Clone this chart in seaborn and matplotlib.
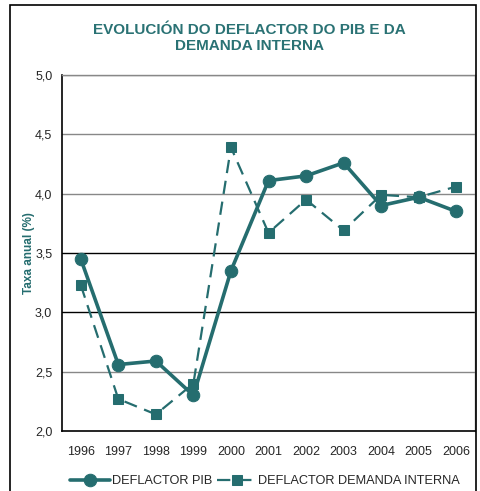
import matplotlib
matplotlib.use("Agg")
import matplotlib.pyplot as plt
import numpy as np
import pandas as pd
import seaborn as sns
from matplotlib.patches import Rectangle

years = [1996, 1997, 1998, 1999, 2000, 2001, 2002, 2003, 2004, 2005, 2006]
deflactor_pib = [3.45, 2.56, 2.59, 2.30, 3.35, 4.11, 4.15, 4.26, 3.90, 3.97, 3.85]
deflactor_demanda = [3.23, 2.27, 2.14, 2.40, 4.39, 3.67, 3.95, 3.69, 3.99, 3.97, 4.06]
y_ticks = [2.0, 2.5, 3.0, 3.5, 4.0, 4.5, 5.0]

TEAL = "#256d6f"

df = pd.DataFrame({
    "ano": years * 2,
    "valor": deflactor_pib + deflactor_demanda,
    "serie": ["DEFLACTOR PIB"] * len(years) + ["DEFLACTOR DEMANDA INTERNA"] * len(years),
})

sns.set_style("white")
plt.rcParams["font.family"] = ["Liberation Sans", "DejaVu Sans"]

fig = plt.figure(figsize=(4.8, 4.91), dpi=100)
ax = fig.add_axes([62 / 480, 1 - 431 / 491, 413 / 480, 356 / 491])

# gridlines (3.0 and 3.5 look darker in the original)
for v in y_ticks[1:]:
    col = "black" if v in (3.0, 3.5) else "#888888"
    ax.axhline(v, color=col, linewidth=1.0, zorder=0)

pib = df[df["serie"] == "DEFLACTOR PIB"]
dem = df[df["serie"] == "DEFLACTOR DEMANDA INTERNA"]

sns.lineplot(data=pib, x="ano", y="valor", ax=ax, color=TEAL, linewidth=2.6,
             marker="o", markersize=9, markeredgecolor=TEAL,
             label="DEFLACTOR PIB", zorder=3)
sns.lineplot(data=dem, x="ano", y="valor", ax=ax, color=TEAL, linewidth=1.6,
             marker="s", markersize=6.5, markeredgecolor=TEAL,
             label="DEFLACTOR DEMANDA INTERNA", zorder=2)
ax.lines[-1].set_dashes((6, 3.5))

ax.set_xlim(years[0] - 0.5, years[-1] + 0.5)
ax.set_ylim(2.0, 5.0)
ax.set_xticks(years)
ax.set_xticklabels([str(y) for y in years], fontsize=9)
ax.set_xticks([y + 0.5 for y in years[:-1]] + [years[0] - 0.5], minor=True)
ax.tick_params(axis="x", which="major", length=0, pad=11)
ax.tick_params(axis="x", which="minor", length=5, width=1, color="black", direction="out")
ax.set_yticks(y_ticks)
ax.set_yticklabels([f"{v:.1f}".replace(".", ",") for v in y_ticks], fontsize=9)
ax.tick_params(axis="y", length=4, width=1, color="black", direction="out", pad=3)

ax.set_xlabel("")
ax.set_ylabel("Taxa anual (%)", color=TEAL, fontsize=8.5, fontweight="bold")
ax.yaxis.set_label_coords((35 - 62) / 413, 0.5)

for s in ["left", "bottom"]:
    ax.spines[s].set_color("black")
    ax.spines[s].set_linewidth(1.2)
for s in ["top", "right"]:
    ax.spines[s].set_color("#888888")
    ax.spines[s].set_linewidth(1.0)

fig.text(0.52, 1 - 38 / 491, "EVOLUCIÓN DO DEFLACTOR DO PIB E DA\nDEMANDA INTERNA",
         ha="center", va="center", color="#2a7274", fontsize=11, fontweight="bold",
         linespacing=1.25)

leg = ax.legend(loc="center left", bbox_to_anchor=(70 / 480, 1 - 481 / 491),
                bbox_transform=fig.transFigure, ncol=2, frameon=False,
                fontsize=9.2, handlelength=3.1, handletextpad=0.15,
                columnspacing=0.4, borderaxespad=0, borderpad=0)

# outer frame of the chart area
fig.patches.append(Rectangle((10 / 480, -0.1), 466 / 480, 1.1 - 5 / 491,
                             transform=fig.transFigure, fill=False,
                             edgecolor="black", linewidth=1.2))

fig.savefig("out.png", dpi=100)
